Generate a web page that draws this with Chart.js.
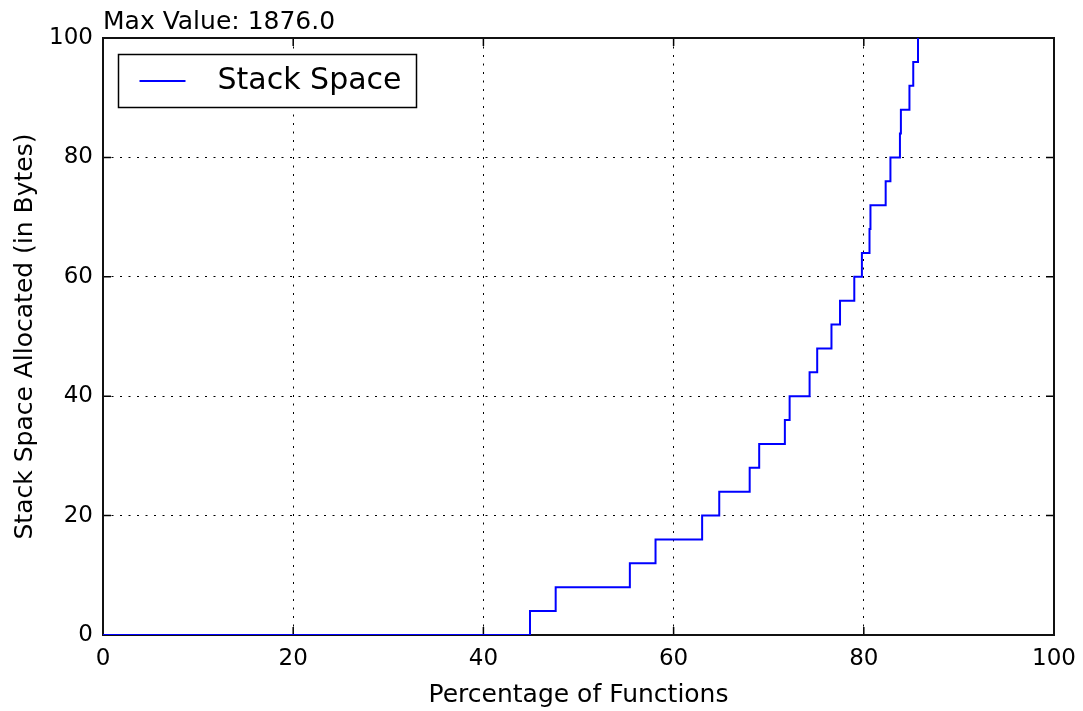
<!DOCTYPE html>
<html>
<head>
<meta charset="utf-8">
<script src="https://cdn.jsdelivr.net/npm/chart.js@4/dist/chart.umd.min.js"></script>
<style>
  html, body { margin: 0; padding: 0; background: #ffffff; }
  #wrap { width: 1083px; height: 711px; }
</style>
</head>
<body>
<div id="wrap"><canvas id="chart" width="1083" height="711"></canvas></div>
<script>
// Cumulative share of functions (%) at which the allocated stack size steps up
const pctFunctions = [0, 44.9, 47.6, 55.4, 58.1, 63.0, 64.8, 68.0, 69.0, 71.7, 72.2, 74.3, 75.1,
  76.6, 77.5, 79.0, 79.8, 80.6, 80.7, 82.3, 82.8, 83.8, 83.9, 84.8, 85.2, 85.7, 100];
// Stack space allocated (bytes) reached at each of those points
const stackBytes = [0, 4, 8, 12, 16, 20, 24, 28, 32, 36, 40, 44, 48,
  52, 56, 60, 64, 68, 72, 76, 80, 84, 88, 92, 96, 104, 1876];
const xTicks = [0, 20, 40, 60, 80, 100];
const yTicks = [0, 20, 40, 60, 80, 100];
const seriesName = 'Stack Space';

const points = pctFunctions.map((x, i) => ({ x: x, y: stackBytes[i] }));
const maxValue = Math.max(...stackBytes);

const FONT = 'DejaVu Sans';

// Axes frame plus inward tick marks on all four sides
const framePlugin = {
  id: 'frame',
  beforeDatasetsDraw(chart) {
    const { ctx, chartArea: a, scales } = chart;
    ctx.save();
    ctx.strokeStyle = '#000';
    ctx.lineWidth = 1.5;
    const len = 8;
    ctx.beginPath();
    xTicks.forEach(v => {
      const px = scales.x.getPixelForValue(v);
      ctx.moveTo(px, a.bottom); ctx.lineTo(px, a.bottom - len);
      ctx.moveTo(px, a.top); ctx.lineTo(px, a.top + len);
    });
    yTicks.forEach(v => {
      const py = scales.y.getPixelForValue(v);
      ctx.moveTo(a.left, py); ctx.lineTo(a.left + len, py);
      ctx.moveTo(a.right, py); ctx.lineTo(a.right - len, py);
    });
    ctx.stroke();
    ctx.lineWidth = 2;
    ctx.strokeStyle = '#111';
    ctx.strokeRect(a.left, a.top, a.right - a.left, a.bottom - a.top);
    ctx.restore();
  }
};

// Boxed legend in the upper-left corner of the plot area
const boxLegendPlugin = {
  id: 'boxLegend',
  afterDatasetsDraw(chart) {
    const { ctx, chartArea: a } = chart;
    const ds = chart.data.datasets[0];
    const x0 = a.left + 15.5, y0 = a.top + 16.5, w = 298, h = 53;
    ctx.save();
    ctx.fillStyle = '#fff';
    ctx.fillRect(x0, y0, w, h);
    ctx.strokeStyle = '#000';
    ctx.lineWidth = 1.5;
    ctx.strokeRect(x0, y0, w, h);
    const cy = y0 + h / 2;
    ctx.strokeStyle = ds.borderColor;
    ctx.lineWidth = 2;
    ctx.beginPath();
    ctx.moveTo(x0 + 21, cy);
    ctx.lineTo(x0 + 67, cy);
    ctx.stroke();
    ctx.fillStyle = '#000';
    ctx.font = '30px "' + FONT + '"';
    ctx.textBaseline = 'middle';
    ctx.textAlign = 'left';
    ctx.fillText(ds.label, x0 + 99, cy);
    ctx.restore();
  }
};

new Chart(document.getElementById('chart'), {
  type: 'line',
  plugins: [framePlugin, boxLegendPlugin],
  data: {
    datasets: [{
      label: seriesName,
      data: points,
      borderColor: '#0000ff',
      backgroundColor: '#0000ff',
      borderWidth: 2,
      pointRadius: 0,
      stepped: 'before',
      fill: false
    }]
  },
  options: {
    responsive: false,
    animation: false,
    devicePixelRatio: 1,
    layout: { padding: 0 },
    plugins: {
      legend: { display: false },
      tooltip: { enabled: false },
      title: {
        display: true,
        text: 'Max Value: ' + maxValue.toFixed(1),
        align: 'start',
        fullSize: false,
        color: '#000',
        font: { family: FONT, size: 25, weight: 'normal', lineHeight: 1.2 },
        padding: { top: 7, bottom: 1 }
      }
    },
    scales: {
      x: {
        type: 'linear',
        min: 0, max: 100,
        afterBuildTicks(scale) { scale.ticks = xTicks.map(v => ({ value: v })); },
        afterFit(scale) {
          scale.height = 76;
          scale.paddingLeft = 0;
          scale.paddingRight = 29;
        },
        ticks: {
          color: '#000',
          padding: 10,
          maxRotation: 0,
          font: { family: FONT, size: 23 },
          callback: v => String(v)
        },
        grid: { color: '#000', lineWidth: 1, drawTicks: false },
        border: { display: false, dash: [2, 6.5] },
        title: {
          display: true,
          text: 'Percentage of Functions',
          color: '#000',
          font: { family: FONT, size: 25 },
          padding: { top: 0, bottom: 1 }
        }
      },
      y: {
        type: 'linear',
        min: 0, max: 100,
        afterBuildTicks(scale) { scale.ticks = yTicks.map(v => ({ value: v })); },
        afterFit(scale) { scale.width = 103; },
        ticks: {
          color: '#000',
          padding: 10,
          font: { family: FONT, size: 23 },
          callback: v => String(v)
        },
        grid: { color: '#000', lineWidth: 1, drawTicks: false },
        border: { display: false, dash: [2, 6.5] },
        title: {
          display: true,
          text: 'Stack Space Allocated (in Bytes)',
          color: '#000',
          font: { family: FONT, size: 25 },
          padding: { top: 10, bottom: 0 }
        }
      }
    }
  }
});
</script>
</body>
</html>
